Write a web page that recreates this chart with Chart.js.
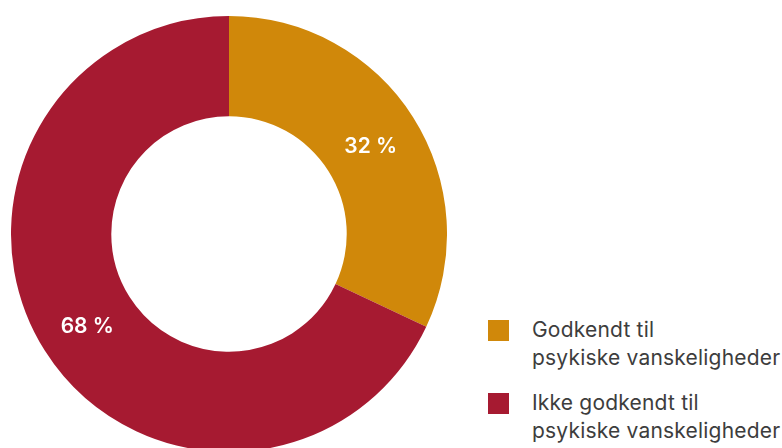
<!DOCTYPE html>
<html>
<head>
<meta charset="utf-8">
<script src="https://cdn.jsdelivr.net/npm/chart.js@4.4.1/dist/chart.umd.min.js"></script>
<style>
  html, body { margin: 0; padding: 0; background: #fff; width: 782px; height: 448px; overflow: hidden; }
  #wrap { position: absolute; left: 11px; top: 16px; width: 436px; height: 436px; }
  #legend { position: absolute; left: 488px; top: 316px; font-family: Inter, "Open Sans", sans-serif; font-size: 21px; color: #3d3d3d; }
  .item { position: relative; padding-left: 44px; line-height: 28px; margin-bottom: 17px; letter-spacing: 0.2px; }
  .sw { position: absolute; left: 0; top: 4px; width: 21px; height: 21px; }
</style>
</head>
<body>
<div id="wrap"><canvas id="c"></canvas></div>
<div id="legend"></div>
<script>
const categories = ["Godkendt til\npsykiske vanskeligheder", "Ikke godkendt til\npsykiske vanskeligheder"];
const values = [32, 68];
const colors = ["#D0880A", "#A61A31"];

const labelPlugin = {
  id: 'sliceLabels',
  afterDatasetsDraw(chart) {
    const ctx = chart.ctx;
    const meta = chart.getDatasetMeta(0);
    ctx.save();
    ctx.fillStyle = '#ffffff';
    ctx.font = '600 21px Inter, "Open Sans", sans-serif';
    ctx.textAlign = 'center';
    ctx.textBaseline = 'alphabetic';
    meta.data.forEach((arc, i) => {
      const p = arc.tooltipPosition();
      ctx.fillText(values[i] + ' %', p.x, p.y + 9);
    });
    ctx.restore();
  }
};

const chart = new Chart(document.getElementById('c'), {
  type: 'doughnut',
  data: {
    labels: categories,
    datasets: [{ data: values, backgroundColor: colors, borderWidth: 0 }]
  },
  options: {
    responsive: true,
    maintainAspectRatio: false,
    animation: false,
    cutout: '54%',
    layout: { padding: 0 },
    plugins: { legend: { display: false }, tooltip: { enabled: false } }
  },
  plugins: [labelPlugin]
});

const legend = document.getElementById('legend');
categories.forEach((c, i) => {
  const d = document.createElement('div');
  d.className = 'item';
  const sw = document.createElement('span');
  sw.className = 'sw';
  sw.style.background = colors[i];
  d.appendChild(sw);
  c.split('\n').forEach((line, j) => {
    if (j) d.appendChild(document.createElement('br'));
    d.appendChild(document.createTextNode(line));
  });
  legend.appendChild(d);
});
</script>
</body>
</html>
